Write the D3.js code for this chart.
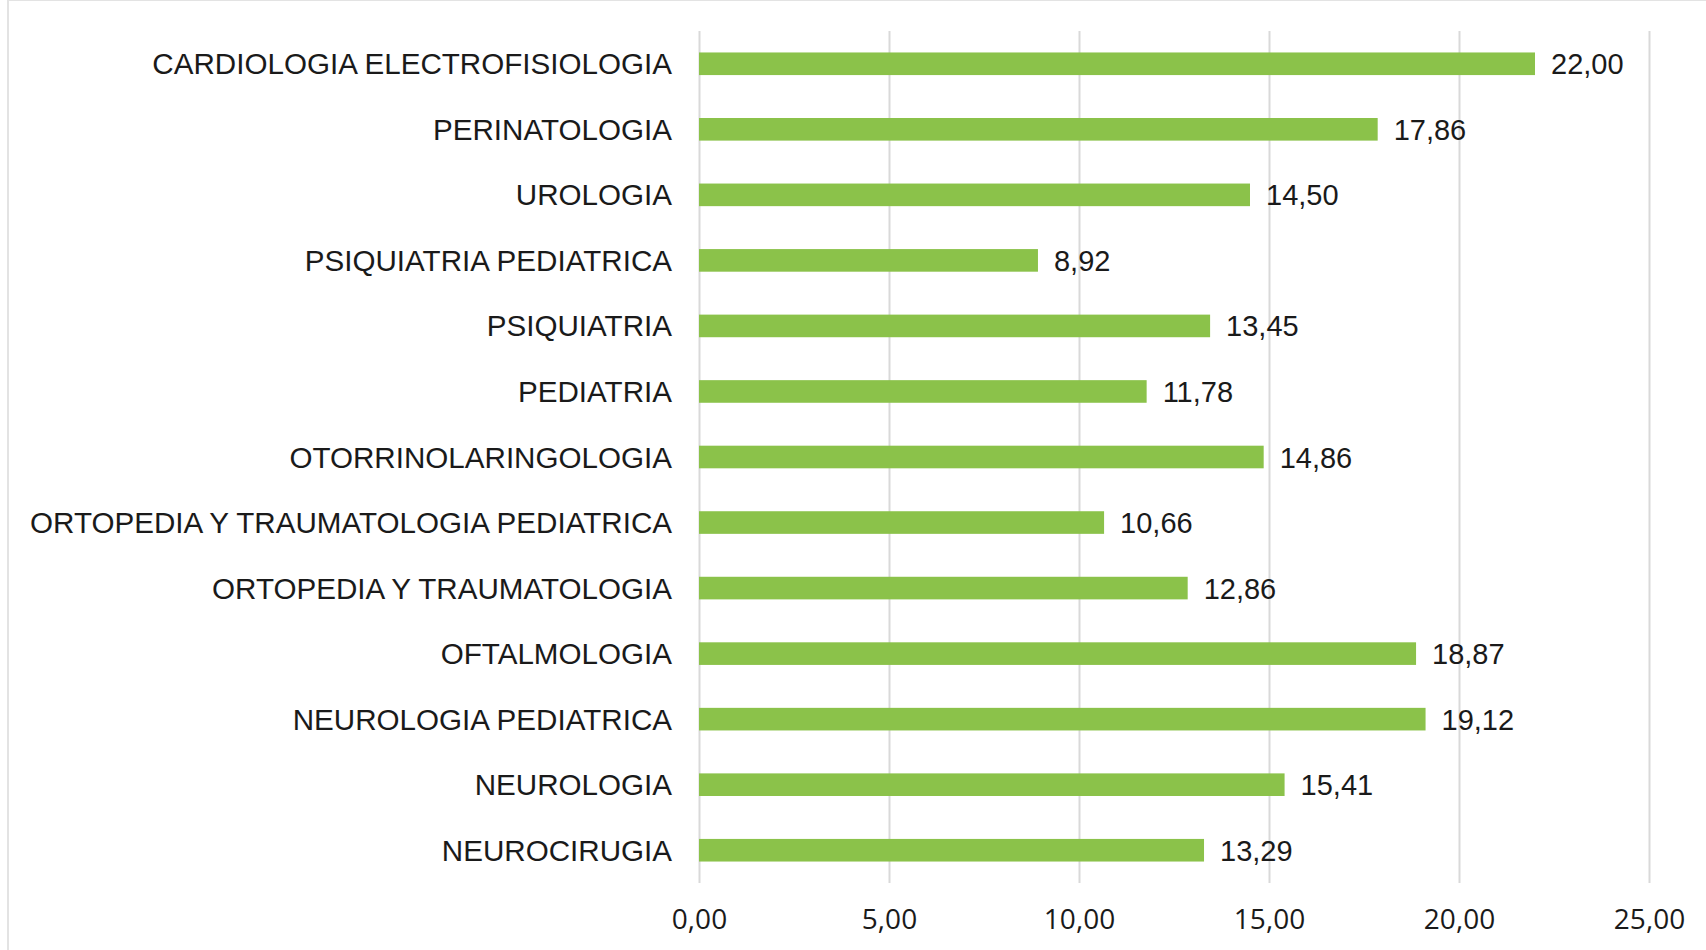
<!DOCTYPE html>
<html>
<head>
<meta charset="utf-8">
<script src="https://cdn.jsdelivr.net/npm/d3@7"></script>
<style>
  html, body { margin: 0; padding: 0; background: #ffffff; }
  svg { display: block; }
</style>
</head>
<body>
<svg id="chart" width="1706" height="950"></svg>
<script>
const categories = [
  "CARDIOLOGIA ELECTROFISIOLOGIA",
  "PERINATOLOGIA",
  "UROLOGIA",
  "PSIQUIATRIA PEDIATRICA",
  "PSIQUIATRIA",
  "PEDIATRIA",
  "OTORRINOLARINGOLOGIA",
  "ORTOPEDIA Y TRAUMATOLOGIA PEDIATRICA",
  "ORTOPEDIA Y TRAUMATOLOGIA",
  "OFTALMOLOGIA",
  "NEUROLOGIA PEDIATRICA",
  "NEUROLOGIA",
  "NEUROCIRUGIA"
];
const values = [22.00, 17.86, 14.50, 8.92, 13.45, 11.78, 14.86, 10.66, 12.86, 18.87, 19.12, 15.41, 13.29];
const tickValues = [0, 5, 10, 15, 20, 25];

const fmt = v => v.toFixed(2).replace(".", ",");

const svg = d3.select("#chart");

// chart frame (partially visible)
svg.append("rect").attr("x", 8).attr("y", 0).attr("width", 1720).attr("height", 1000)
  .attr("fill", "#fff").attr("stroke", "#e3e3e3").attr("stroke-width", 2);

const x = d3.scaleLinear().domain([0, 25]).range([699, 1649]);
const y = d3.scaleBand().domain(categories).range([31, 883])
  .paddingInner(0.655).paddingOuter(0.3275);

// gridlines
const grid = d3.axisBottom(x).tickValues(tickValues).tickSize(-(883 - 31)).tickFormat("");
const gg = svg.append("g").attr("transform", "translate(0,883)").call(grid);
gg.select(".domain").remove();
gg.selectAll(".tick line").attr("stroke", "#d9d9d9").attr("stroke-width", 2);

// tick labels
const xAxis = d3.axisBottom(x).tickValues(tickValues).tickSize(0).tickFormat(fmt);
const xa = svg.append("g").attr("transform", "translate(0,883)").call(xAxis);
xa.select(".domain").remove();
xa.selectAll(".tick text")
  .attr("y", 0).attr("dy", "46px")
  .attr("font-family", "'Open Sans', sans-serif")
  .attr("font-size", "28px")
  .attr("fill", "#1a1a1a");

// bars
svg.append("g").selectAll("rect").data(categories).join("rect")
  .attr("x", x(0))
  .attr("y", d => y(d))
  .attr("width", (d, i) => x(values[i]) - x(0))
  .attr("height", y.bandwidth())
  .attr("fill", "#8bc24a");

// category labels
const yAxis = d3.axisLeft(y).tickSize(0).tickPadding(27);
const ya = svg.append("g").attr("transform", `translate(${x(0)},0)`).call(yAxis);
ya.select(".domain").remove();
ya.selectAll(".tick text")
  .attr("dy", "10.5px")
  .attr("font-family", "'Liberation Sans', Arial, sans-serif")
  .attr("font-size", "29.6px")
  .attr("fill", "#1a1a1a");

// value labels
svg.append("g").selectAll("text").data(categories).join("text")
  .attr("x", (d, i) => x(values[i]) + 16)
  .attr("y", d => y(d) + y.bandwidth() / 2 + 10.5)
  .attr("font-family", "'Liberation Sans', Arial, sans-serif")
  .attr("font-size", "29px")
  .attr("fill", "#1a1a1a")
  .text((d, i) => fmt(values[i]));
</script>
</body>
</html>
